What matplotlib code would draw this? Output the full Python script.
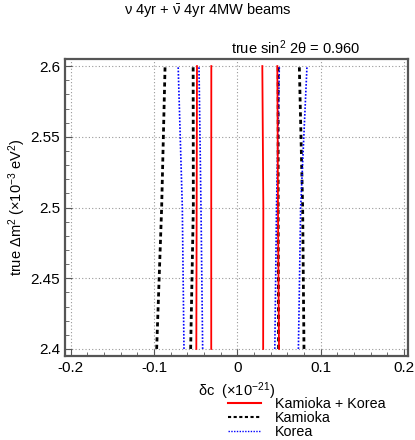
import matplotlib.pyplot as plt
from matplotlib.ticker import MultipleLocator
from matplotlib.lines import Line2D

plt.rcParams['font.family'] = ['Liberation Sans', 'DejaVu Sans']
plt.rcParams['mathtext.fontset'] = 'custom'
plt.rcParams['mathtext.rm'] = 'Liberation Sans'
plt.rcParams['mathtext.it'] = 'Liberation Sans'
plt.rcParams['mathtext.sf'] = 'Liberation Sans'

# true dm^2 values where the contour lines were sampled
dm2 = [2.4, 2.5, 2.6]

# delta c (x1e-21) of each contour line at dm2 = 2.4, 2.5, 2.6
combined_lines = [
    [-0.0492, -0.0488, -0.0484],
    [-0.0313, -0.0313, -0.0312],
    [0.0310, 0.0312, 0.0300],
    [0.0500, 0.0488, 0.0480],
]
kamioka_lines = [
    [-0.0968, -0.0908, -0.0867],
    [-0.0560, -0.0528, -0.0530],
    [0.0495, 0.0490, 0.0490],
    [0.0800, 0.0784, 0.0744],
]
korea_lines = [
    [-0.0640, -0.0660, -0.0710],
    [-0.0416, -0.0436, -0.0460],
    [0.0450, 0.0470, 0.0504],
    [0.0733, 0.0760, 0.0836],
]

fig = plt.figure(figsize=(4.15, 4.4), dpi=100)
ax = fig.add_axes([0.1566, 0.1909, 0.8265, 0.675])

for xs in kamioka_lines:
    ax.plot(xs, dm2, color='black', linestyle=(0, (1.5, 1.2)), linewidth=2.0)
for xs in korea_lines:
    ax.plot(xs, dm2, color='blue', linestyle=(0, (1, 1)), linewidth=1.2)
for xs in combined_lines:
    ax.plot(xs, dm2, color='red', linewidth=1.3)

ax.set_xlim(-0.2068, 0.2048)
ax.set_ylim(2.395, 2.605)
ax.set_xticks([-0.2, -0.1, 0, 0.1, 0.2])
ax.set_xticklabels(['-0.2', '-0.1', '0', '0.1', '0.2'])
ax.set_yticks([2.4, 2.45, 2.5, 2.55, 2.6])
ax.set_yticklabels(['2.4', '2.45', '2.5', '2.55', '2.6'])
ax.xaxis.set_minor_locator(MultipleLocator(0.02))
ax.yaxis.set_minor_locator(MultipleLocator(0.01))
ax.tick_params(which='both', direction='in', labelsize=11, color='#555555',
               top=False, right=False)
ax.tick_params(which='major', length=5)
ax.tick_params(which='minor', length=3)
ax.grid(True, which='major', color='#999999', linestyle=(0, (1, 2)), linewidth=0.8)
for s in ax.spines.values():
    s.set_color('#555555')
    s.set_linewidth(1.6)

ax.set_xlabel(r'$\delta$c  ($\times$10$^{-21}$)', fontsize=10.5, labelpad=4)
ax.set_ylabel(r'true $\Delta$m$^2$ ($\times$10$^{-3}$ eV$^2$)', fontsize=10.5, labelpad=2)

fig.text(0.5, 0.978, r'$\nu$ 4yr + $\bar{\nu}$ 4yr 4MW beams', ha='center', va='center', fontsize=10.5)
fig.text(0.868, 0.891, r'true sin$^2$ 2$\theta$ = 0.960', ha='right', va='center', fontsize=10.5)

handles = [
    Line2D([], [], color='red', linewidth=1.5),
    Line2D([], [], color='black', linestyle=(0, (1.5, 1.2)), linewidth=1.5),
    Line2D([], [], color='blue', linestyle=(0, (1, 1)), linewidth=1.0),
]
fig.legend(handles, ['Kamioka + Korea', 'Kamioka', 'Korea'], loc='upper left',
           bbox_to_anchor=(0.549, 0.097), frameon=False, fontsize=10.3,
           handlelength=2.3, handletextpad=1.0, labelspacing=0.0,
           borderpad=0.0, borderaxespad=0.0)

fig.savefig('out.png', dpi=100)
